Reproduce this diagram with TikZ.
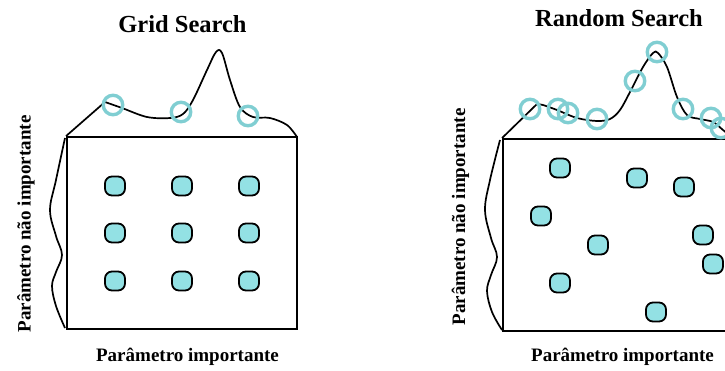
\documentclass[tikz,border=0pt]{standalone}
\usepackage{fontspec}
\setmainfont{Liberation Serif}
\begin{document}
\begin{tikzpicture}[x=1pt,y=-1pt,
  panel/.style={draw,line width=1.9pt,minimum width=230pt,minimum height=192pt,inner sep=0pt},
  trial/.style={draw=black,line width=1.8pt,fill=dotfill,rounded corners=7pt,minimum width=20pt,minimum height=19pt,inner sep=0pt},
  probe/.style={draw=ringcol,line width=3.4pt,circle,minimum size=19.5pt,inner sep=0pt},
  curve/.style={line width=1.7pt,line join=round},
  title/.style={font=\fontsize{24.5}{28}\selectfont\bfseries,anchor=base},
  axis/.style={font=\fontsize{19}{22}\selectfont\bfseries,anchor=base}]
\definecolor{dotfill}{RGB}{147,225,228}
\definecolor{ringcol}{RGB}{128,206,210}
\useasboundingbox (0,0) rectangle (725,370);
\clip (0,0) rectangle (725,370);

% ---------- Grid search ----------
\node[title] (gtitle) at (182.5,32) {Grid Search};
\node[panel] (gbox) at (182,233) {};
\draw[curve] (gbox.north west) -- (105,102)
  plot[smooth,tension=0.55] coordinates {(105,102) (122,108) (147,117) (170,118) (183,114) (193,100) (207,70) (216,52) (222,53) (230,80) (240,107) (253,117) (270,118) (287,125) (297,137)};
\draw[curve] plot[smooth,tension=0.6] coordinates {(65,138) (56,180) (50,210) (56,236) (62,255) (56,272) (52,286) (56,306) (65,328)};
\foreach \x in {115,182,249}
  \foreach \y in {186,233,281}
    \node[trial] at (\x,\y) {};
\node[probe] (g1) at (113,105) {};
\node[probe] (g2) at (181,112) {};
\node[probe] (g3) at (248,116) {};
\node[axis] (gx) at (187.5,361.5) {Parâmetro importante};
\node[axis,rotate=90] (gy) at (30.5,224) {Parâmetro não importante};

% ---------- Random search ----------
\node[title] (rtitle) at (619,26) {Random Search};
\node[panel] (rbox) at (618,235) {};
\draw[curve] (rbox.north west) -- (537,104)
  plot[smooth,tension=0.55] coordinates {(537,104) (543,105) (557,110) (577,118) (597,121) (610,119) (620,110) (630,92) (643,67) (653,53) (658,53) (667,67) (677,97) (687,115) (700,119) (713,122) (723,130) (734,139)};
\draw[curve] plot[smooth,tension=0.6] coordinates {(500,140) (490,180) (485,210) (491,238) (497,257) (491,275) (487,291) (492,312) (502,330)};
\foreach \p in {(560,168),(637,178),(684,187),(541,216),(598,245),(703,235),(713,264),(560,283),(656,312)}
  \node[trial] at \p {};
\foreach \p/\n in {(530,109)/1,(558,109)/2,(568,113)/3,(597,119)/4,(635,81)/5,(657,52)/6,(683,109)/7,(711,118)/8,(721,128)/9}
  \node[probe] (r\n) at \p {};
\node[axis] (rx) at (622.5,361.5) {Parâmetro importante};
\node[axis,rotate=90] (ry) at (465,217) {Parâmetro não importante};
\end{tikzpicture}
\end{document}
